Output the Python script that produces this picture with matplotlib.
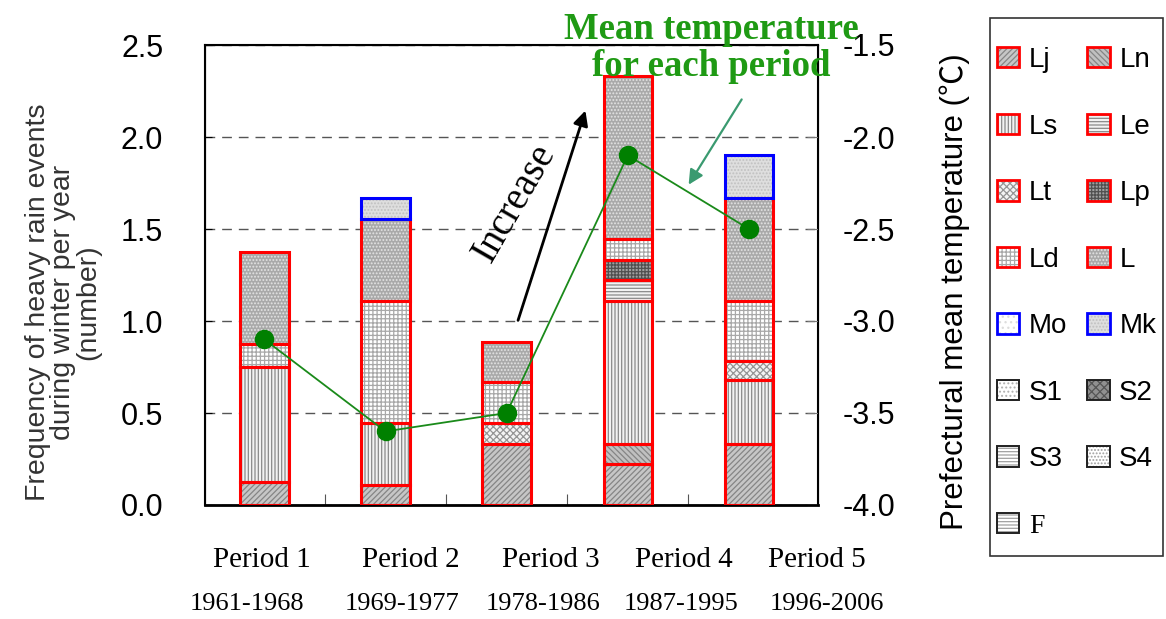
import numpy as np
import matplotlib
matplotlib.use('Agg')
import matplotlib.pyplot as plt
from matplotlib.patches import Patch, Rectangle
from matplotlib.legend_handler import HandlerTuple
from matplotlib.ticker import FormatStrFormatter

plt.rcParams['font.family'] = ['Liberation Sans', 'Noto Sans CJK JP', 'DejaVu Sans']
plt.rcParams['axes.unicode_minus'] = False
plt.rcParams['hatch.linewidth'] = 0.9

# data (events per year, stacked by type)
periods = ['Period 1', 'Period 2', 'Period 3', 'Period 4', 'Period 5']
years = ['1961-1968', '1969-1977', '1978-1986', '1987-1995', '1996-2006']
types = ['Lj', 'Ln', 'Ls', 'Le', 'Lt', 'Lp', 'Ld', 'L', 'Mo', 'Mk', 'S1', 'S2', 'S3', 'S4', 'F']

lj = [0.125, 0.111, 0.333, 0.222, 0.33]
ln = [0.0, 0.0, 0.0, 0.111, 0.0]
ls = [0.625, 0.333, 0.0, 0.778, 0.35]
le = [0.0, 0.0, 0.0, 0.111, 0.0]
lt = [0.0, 0.0, 0.111, 0.0, 0.10]
lp = [0.0, 0.0, 0.0, 0.111, 0.0]
ld = [0.125, 0.667, 0.222, 0.111, 0.33]
l_all = [0.5, 0.444, 0.222, 0.889, 0.56]
mo = [0.0, 0.0, 0.0, 0.0, 0.0]
mk = [0.0, 0.111, 0.0, 0.0, 0.23]
s1 = [0.0, 0.0, 0.0, 0.0, 0.0]
s2 = [0.0, 0.0, 0.0, 0.0, 0.0]
s3 = [0.0, 0.0, 0.0, 0.0, 0.0]
s4 = [0.0, 0.0, 0.0, 0.0, 0.0]
f_ = [0.0, 0.0, 0.0, 0.0, 0.0]

temp = [-3.10, -3.60, -3.50, -2.10, -2.50]

series = [lj, ln, ls, le, lt, lp, ld, l_all, mo, mk, s1, s2, s3, s4, f_]

RED, BLUE, BLK = '#ff0000', '#0000ff', '#202020'
# face, hatch, hatch colour, edge colour
styles = {
    'Lj': ('#c6c6c6', '//////', '#858585', RED),
    'Ln': ('#c0c0c0', '\\\\\\\\\\\\', '#858585', RED),
    'Ls': ('#f2f2f2', '|||||', '#8a8a8a', RED),
    'Le': ('#f2f2f2', '-----', '#8a8a8a', RED),
    'Lt': ('#f4f4f4', 'xxxxx', '#959595', RED),
    'Lp': ('#a0a0a0', '+++++', '#505050', RED),
    'Ld': ('#ffffff', '++++', '#a8a8a8', RED),
    'L': ('#a9a9a9', '.....', '#e4e4e4', RED),
    'Mo': ('#ffffff', '...', '#dddddd', BLUE),
    'Mk': ('#dedede', '.....', '#c0c0c0', BLUE),
    'S1': ('#ffffff', '....', '#b0b0b0', BLK),
    'S2': ('#909090', 'xxxx', '#555555', BLK),
    'S3': ('#ffffff', '-----', '#a0a0a0', BLK),
    'S4': ('#ffffff', '.....', '#a0a0a0', BLK),
    'F': ('#ffffff', '-----', '#a0a0a0', BLK),
}

fig = plt.figure(figsize=(11.66, 6.19), dpi=100)
ax = fig.add_axes([205 / 1166, 1 - 505 / 619, 613 / 1166, 460 / 619])
x = np.arange(len(periods))
width = 0.40

bottom = np.zeros(len(periods))
handles = {}
for name, vals in zip(types, series):
    vals = np.array(vals)
    face, hatch, hcol, edge = styles[name]
    idx = vals > 0
    if idx.any():
        ax.bar(x[idx], vals[idx], width, bottom=bottom[idx], color=face,
               edgecolor=hcol, hatch=hatch, linewidth=0, zorder=2)
        ax.bar(x[idx], vals[idx], width, bottom=bottom[idx], fill=False,
               edgecolor=edge, linewidth=2.2, zorder=3)
    bottom += vals
    lw = 2.0 if edge != BLK else 1.4
    handles[name] = (Patch(facecolor=face, edgecolor=hcol, hatch=hatch, linewidth=0),
                     Patch(fill=False, edgecolor=edge, linewidth=lw))

ax.set_xlim(-0.49, 4.57)
ax.set_ylim(0, 2.5)
ax.set_yticks(np.arange(0, 2.51, 0.5))
ax.yaxis.set_major_formatter(FormatStrFormatter('%.1f'))
ax.set_xticks(x[:-1] + 0.5)
ax.set_xticklabels([])
ax.tick_params(axis='x', direction='in', length=8, color='#555555')
ax.tick_params(axis='y', direction='in', length=5, labelsize=22, pad=30)
ax.set_axisbelow(True)
ax.yaxis.grid(True, color='#555555', linestyle=(0, (7, 5)), linewidth=1)
for s in ax.spines.values():
    s.set_linewidth(1.5)
ax.spines['bottom'].set_linewidth(2)

ax2 = ax.twinx()
ax2.set_ylim(-4.0, -1.5)
ax2.set_yticks(np.arange(-4.0, -1.49, 0.5))
ax2.yaxis.set_major_formatter(FormatStrFormatter('%.1f'))
ax2.tick_params(axis='y', direction='in', length=8, color='#777777', labelsize=22, pad=18)
ax2.plot(x, temp, color='#1a8a1a', linewidth=1.3, marker='o', markersize=13,
         markerfacecolor='#008000', markeredgecolor='#008000', zorder=5)

# annotations
ax2.annotate('', xy=(2.657, 2.158), xytext=(2.087, 0.989), xycoords=ax.transData,
             textcoords=ax.transData,
             arrowprops=dict(arrowstyle='-|>', color='black', lw=2, mutation_scale=22))
ax2.text(2.07, 1.64, 'Increase', transform=ax.transData, rotation=60,
         family='Liberation Serif', fontsize=28, ha='center', va='center')
ax2.annotate('', xy=(3.49, 1.728), xytext=(3.952, 2.217), xycoords=ax.transData,
             textcoords=ax.transData,
             arrowprops=dict(arrowstyle='-|>', color='#3a9a70', lw=1.6, mutation_scale=22))
fig.text(711 / 1166, 1 - 48 / 619, 'Mean temperature\nfor each period', color='#1f9a14',
         family='Liberation Serif', fontweight='bold', fontsize=26.5, ha='center',
         va='center', linespacing=1.1, zorder=10)

# category labels
period_px = [262, 411, 551, 684, 817]
year_px = [247, 402, 543, 681, 827]
for px, lab in zip(period_px, periods):
    fig.text(px / 1166, 1 - 560 / 619, lab, family='Liberation Serif', fontsize=21,
             ha='center', va='center')
for px, lab in zip(year_px, years):
    fig.text(px / 1166, 1 - 604 / 619, lab, family='Liberation Serif', fontsize=19,
             ha='center', va='center')

fig.text(63 / 1166, 1 - 302 / 619,
         'Frequency of heavy rain events\nduring winter per year\n(number)',
         rotation=90, ha='center', va='center', multialignment='center',
         fontsize=20.5, linespacing=0.95, color='#333333')
fig.text(955 / 1166, 1 - 292 / 619, 'Prefectural mean temperature (\u2103)',
         rotation=90, ha='center', va='center', fontsize=22.5)

# legend, filled row by row as in the original
col1 = ['Lj', 'Ls', 'Lt', 'Ld', 'Mo', 'S1', 'S3', 'F']
col2 = ['Ln', 'Le', 'Lp', 'L', 'Mk', 'S2', 'S4']
order = col1 + col2
leg = fig.legend([handles[n] for n in order], order, ncol=2, loc='upper left',
                 bbox_to_anchor=(997 / 1166, 1 - 47 / 619), frameon=False,
                 fontsize=20, handlelength=0.8, handleheight=0.75,
                 labelspacing=1.46, columnspacing=0.72, handletextpad=0.35, borderpad=0,
                 borderaxespad=0,
                 handler_map={tuple: HandlerTuple(ndivide=1, pad=0)})
for t in leg.get_texts():
    if t.get_text() == 'F':
        t.set_family('Liberation Serif')
fig.patches.append(Rectangle((990 / 1166, 1 - 556 / 619), 173 / 1166, 538 / 619,
                             transform=fig.transFigure, fill=False,
                             edgecolor='#333333', linewidth=1.2))

fig.savefig('out.png', dpi=100)
